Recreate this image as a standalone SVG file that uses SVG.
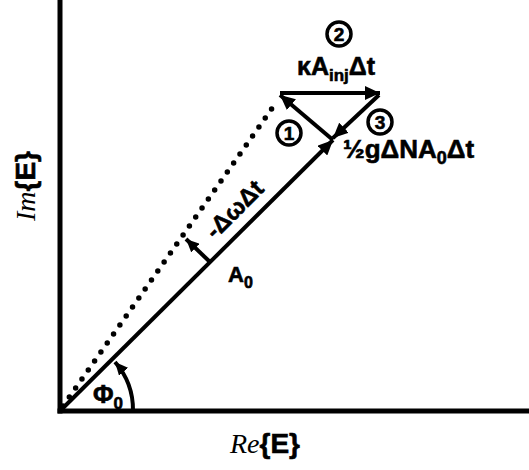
<svg xmlns="http://www.w3.org/2000/svg" width="529" height="470" viewBox="0 0 529 470">
<defs>
<marker id="ah" markerUnits="userSpaceOnUse" markerWidth="16" markerHeight="14" refX="15" refY="7" orient="auto">
<path d="M0,0 L15,7 L0,14 z" fill="#000"/>
</marker>
<marker id="ahs" markerUnits="userSpaceOnUse" markerWidth="14" markerHeight="12" refX="13" refY="6" orient="auto">
<path d="M0,0 L13,6 L0,12 z" fill="#000"/>
</marker>
</defs>
<style>
.ln{stroke:#000;stroke-width:4;fill:none}
.ax{stroke:#000;stroke-width:5;fill:none}
.b{font-family:"Liberation Sans",Arial,sans-serif;font-weight:bold;fill:#000;stroke:#000;stroke-width:0.6}
.ser{font-family:"Liberation Serif","DejaVu Serif",serif;font-style:italic;fill:#000}
.circ{fill:#fff;stroke:#000;stroke-width:3.5}
</style>
<rect width="529" height="470" fill="#fff"/>
<g id="axes">
<line class="ax" x1="60" y1="0" x2="60" y2="413.5"/>
<line class="ax" x1="57.5" y1="411" x2="529" y2="411"/>
</g>
<g id="connectors">
<line id="A0" class="ln" x1="60" y1="411" x2="333" y2="140" marker-end="url(#ah)"/>
<line id="dotted" x1="63" y1="406" x2="275" y2="104" stroke="#000" stroke-width="5.5" stroke-linecap="round" stroke-dasharray="0 11"/>
<line id="kappa" class="ln" x1="280" y1="93" x2="380" y2="93" marker-end="url(#ah)"/>
<line id="gain" class="ln" x1="379" y1="95" x2="333" y2="138" marker-end="url(#ah)"/>
<line id="one" class="ln" x1="333" y1="140" x2="280" y2="95" marker-end="url(#ah)"/>
<line id="dw" class="ln" x1="210" y1="262" x2="186" y2="239" marker-end="url(#ahs)"/>
<path id="phiarc" class="ln" d="M133,411 A73,73 0 0 0 115,362" marker-end="url(#ahs)"/>
</g>
<g id="c2"><circle class="circ" cx="339" cy="34" r="12"/><text class="b" x="339" y="41" font-size="19" text-anchor="middle">2</text></g>
<g id="c1"><circle class="circ" cx="289" cy="133" r="12"/><text class="b" x="289" y="140" font-size="19" text-anchor="middle">1</text></g>
<g id="c3"><circle class="circ" cx="380" cy="122" r="12"/><text class="b" x="380" y="129" font-size="19" text-anchor="middle">3</text></g>
<g id="labels">
<text class="b" x="297" y="75" font-size="25">κA<tspan font-size="17" dy="6">inj</tspan><tspan dy="-6">Δt</tspan></text>
<text class="b" x="343" y="158" font-size="26">½gΔNA<tspan font-size="18" dy="6">0</tspan><tspan dy="-6">Δt</tspan></text>
<text class="b" transform="translate(215,240) rotate(-44.7)" font-size="24">-ΔωΔt</text>
<text class="b" x="228" y="282" font-size="22">A<tspan font-size="16" dy="6">0</tspan></text>
<text class="b" x="93" y="403" font-size="25">Φ<tspan font-size="17" dy="6">0</tspan></text>
<text transform="translate(35,221) rotate(-90)" font-size="28"><tspan class="ser">Im</tspan><tspan class="b">{E}</tspan></text>
<text x="230" y="453" font-size="28"><tspan class="ser">Re</tspan><tspan class="b">{E}</tspan></text>
</g>
</svg>
